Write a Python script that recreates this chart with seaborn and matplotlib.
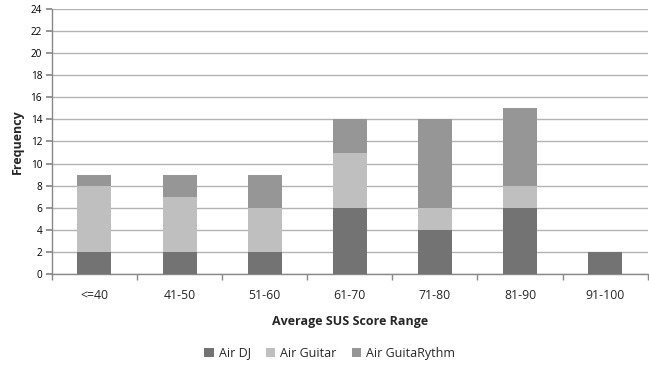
import matplotlib
matplotlib.use("Agg")
import matplotlib.pyplot as plt
from matplotlib.patches import Patch
import numpy as np
import pandas as pd
import seaborn as sns

categories = ["<=40", "41-50", "51-60", "61-70", "71-80", "81-90", "91-100"]
air_dj = [2, 2, 2, 6, 4, 6, 2]
air_guitar = [6, 5, 4, 5, 2, 2, 0]
air_guitarythm = [1, 2, 3, 3, 8, 7, 0]
series_names = ["Air DJ", "Air Guitar", "Air GuitaRythm"]
colors = ["#737373", "#bfbfbf", "#969696"]

sns.set_theme(style="white")
plt.rcParams["font.family"] = ["Open Sans", "DejaVu Sans"]

dj = np.array(air_dj)
gt = np.array(air_guitar)
gr = np.array(air_guitarythm)

df = pd.DataFrame({
    "range": categories,
    "total": dj + gt + gr,
    "dj_gt": dj + gt,
    "dj": dj,
})

fig = plt.figure(figsize=(6.49, 3.67), dpi=100)
ax = fig.add_axes([0.080, 0.2534, 0.918, 0.7221])

# stacked bars drawn as overlapping cumulative totals
for col, c in [("total", colors[2]), ("dj_gt", colors[1]), ("dj", colors[0])]:
    sns.barplot(data=df, x="range", y=col, color=c, width=0.4,
                saturation=1, linewidth=0, ax=ax, zorder=3)

ax.set_ylim(0, 24)
ax.set_yticks(range(0, 25, 2))
ax.set_xlim(-0.5, 6.5)
ax.yaxis.grid(True, color="#b3b3b3", linewidth=1.0, zorder=0)
ax.set_axisbelow(True)

for s in ["top", "right"]:
    ax.spines[s].set_visible(False)
for s in ["left", "bottom"]:
    ax.spines[s].set_color("#888888")
    ax.spines[s].set_linewidth(1.0)

ax.tick_params(axis="y", labelsize=7.2, colors="#000000", length=4, direction="out",
               left=True, color="#888888", pad=3)
ax.tick_params(axis="x", labelsize=8.8, length=0, pad=11)
ax.set_xticks(range(len(categories)))
ax.set_xticklabels(categories)
# minor ticks between categories
ax.set_xticks(np.arange(-0.5, 7, 1.0), minor=True)
ax.tick_params(axis="x", which="minor", length=4, color="#888888", direction="out", bottom=True)

ax.set_xlabel("Average SUS Score Range", fontsize=9, fontweight="bold", labelpad=9)
ax.set_ylabel("Frequency", fontsize=9, fontweight="bold", labelpad=5)

handles = [Patch(facecolor=c, edgecolor="none") for c in colors]
fig.legend(handles, series_names, loc="center", bbox_to_anchor=(0.508, 0.038),
           ncol=3, frameon=False, fontsize=9, handlelength=0.75, handleheight=0.75,
           handletextpad=0.4, columnspacing=1.2)

fig.savefig("out.png", dpi=100)
